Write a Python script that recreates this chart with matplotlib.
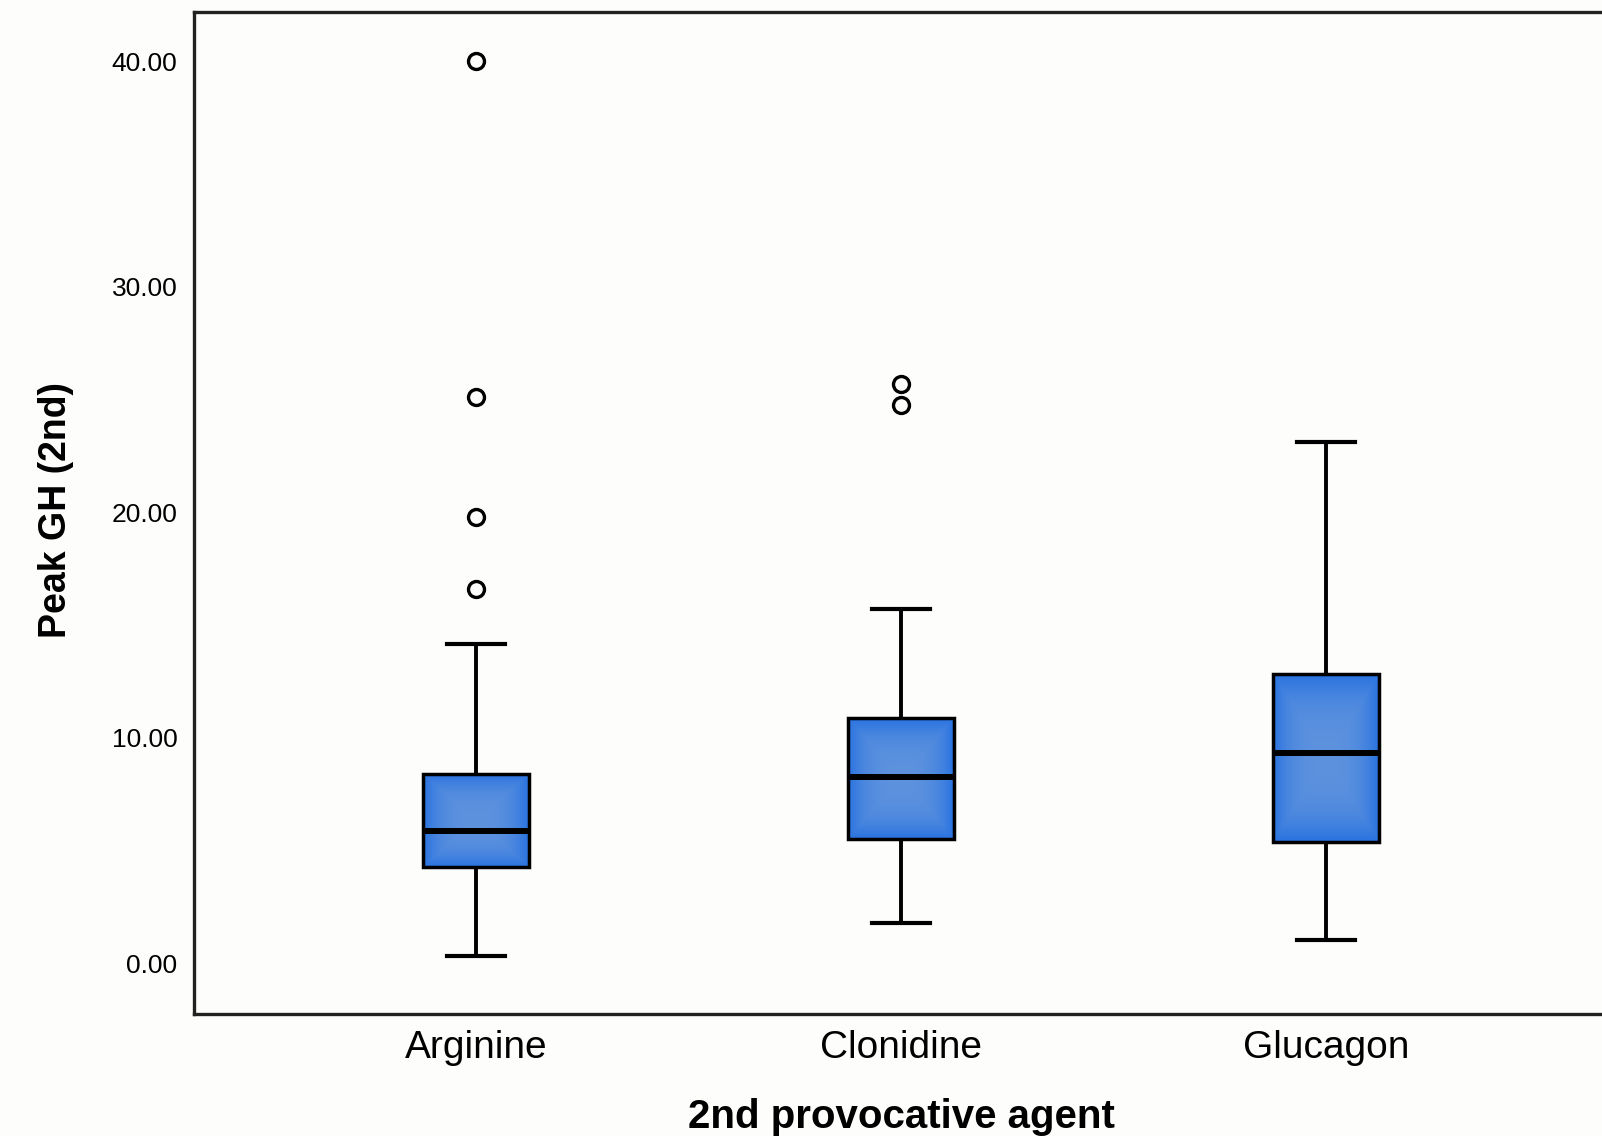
import matplotlib
matplotlib.use("Agg")
from matplotlib import pyplot as plt
import numpy as np

plt.rcParams['font.family'] = ['Liberation Sans', 'DejaVu Sans']

agents = ['Arginine', 'Clonidine', 'Glucagon']
whisker_low = [0.32, 1.81, 1.04]
q1 = [4.26, 5.53, 5.39]
medians = [5.89, 8.25, 9.33]
q3 = [8.38, 10.87, 12.82]
whisker_high = [14.18, 15.72, 23.11]
outliers = [[40.0, 25.1, 19.8, 16.6], [25.69, 24.78], []]
yticks = [0, 10, 20, 30, 40]

fig = plt.figure(figsize=(16.02, 11.36), dpi=100, facecolor='#fdfdfc')
ax = fig.add_axes([0.1211, 0.1078, 0.8826, 0.8814])
ax.set_facecolor('#fdfdfc')

stats = []
for i, name in enumerate(agents):
    stats.append(dict(label=name, whislo=whisker_low[i], q1=q1[i], med=medians[i],
                      q3=q3[i], whishi=whisker_high[i], fliers=outliers[i]))

bp = ax.bxp(stats, positions=[1, 2, 3], widths=0.248, capwidths=0.135,
            patch_artist=True, showfliers=True,
            boxprops=dict(facecolor='none', edgecolor='black', linewidth=2.5, zorder=3),
            medianprops=dict(color='black', linewidth=4.3, zorder=4),
            whiskerprops=dict(color='black', linewidth=2.8),
            capprops=dict(color='black', linewidth=3.0),
            flierprops=dict(marker='o', markersize=11.5, markerfacecolor='none',
                            markeredgecolor='black', markeredgewidth=2.4))

# soft blue gradient inside each box (lighter centre, brighter edges)
gx = np.linspace(-1, 1, 60)
gy = np.linspace(-1, 1, 60)
GX, GY = np.meshgrid(gx, gy)
shade = np.maximum(np.abs(GX), np.abs(GY)) ** 3
c_in = np.array([0.36, 0.57, 0.87])
c_out = np.array([0.16, 0.45, 0.88])
grad = c_in[None, None, :] * (1 - shade[..., None]) + c_out[None, None, :] * shade[..., None]
for box in bp['boxes']:
    verts = box.get_path().vertices
    x0, x1 = verts[:, 0].min(), verts[:, 0].max()
    y0, y1 = verts[:, 1].min(), verts[:, 1].max()
    im = ax.imshow(grad, extent=[x0, x1, y0, y1], aspect='auto', zorder=2,
                   interpolation='bilinear')
    im.set_clip_path(box)

ax.set_xlim(0.337, 3.663)
ax.set_ylim(-2.22, 42.18)
ax.set_yticks(yticks)
ax.set_yticklabels(['%.2f' % v for v in yticks], fontsize=19)
ax.tick_params(axis='y', length=0, pad=12)
ax.tick_params(axis='x', length=0, pad=12, labelsize=28)
for s in ax.spines.values():
    s.set_linewidth(2.4)
    s.set_color('#222222')

fig.text(0.563, 0.017, '2nd provocative agent', fontsize=29, fontweight='bold',
         ha='center', va='center')
fig.text(0.035, 0.551, 'Peak GH (2nd)', fontsize=27, fontweight='bold',
         rotation=90, ha='center', va='center')

fig.savefig('out.png', dpi=100, facecolor=fig.get_facecolor())
